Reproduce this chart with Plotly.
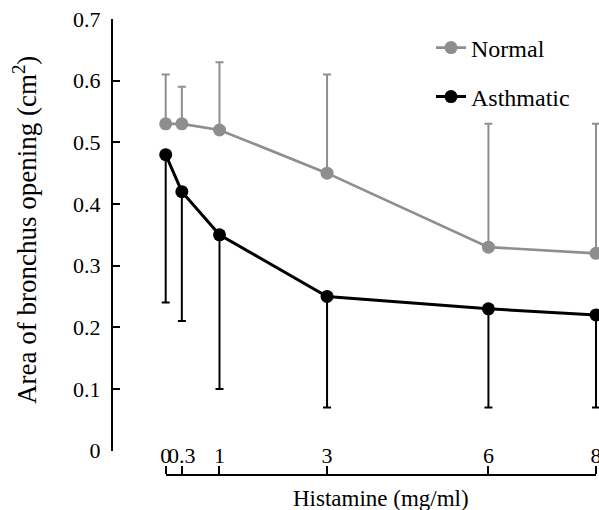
import plotly.graph_objects as go

# ---- data ----
histamine = [0, 0.3, 1, 3, 6, 8]
normal_mean = [0.53, 0.53, 0.52, 0.45, 0.33, 0.32]
normal_err_up = [0.08, 0.06, 0.11, 0.16, 0.20, 0.21]
asth_mean = [0.48, 0.42, 0.35, 0.25, 0.23, 0.22]
asth_err_down = [0.24, 0.21, 0.25, 0.18, 0.16, 0.15]
x_ticks = [0, 0.3, 1, 3, 6, 8]
x_tick_text = ["0", "0.3", "1", "3", "6", "8"]
y_ticks = [0, 0.1, 0.2, 0.3, 0.4, 0.5, 0.6, 0.7]
y_tick_text = ["0", "0.1", "0.2", "0.3", "0.4", "0.5", "0.6", "0.7"]

GRAY = "#8e8e8e"
BLACK = "#000000"
FONT = "Times New Roman, Liberation Serif, serif"

W, H = 599, 510
ML, MR, MT, MB = 113, 0, 19, 20
PW = W - ML - MR
PH = H - MT - MB

def px_x(p):  # pixel -> paper x
    return (p - ML) / PW

def px_y(p):  # pixel -> paper y
    return (H - MB - p) / PH

fig = go.Figure()

# dummy trace to create the display x-axis subplot (drawn first, underneath)
fig.add_trace(go.Scatter(x=[None], y=[None], xaxis="x2", yaxis="y",
                         showlegend=False, hoverinfo="skip"))

fig.add_trace(go.Scatter(
    x=histamine, y=normal_mean, name="Normal", mode="lines+markers",
    line=dict(color=GRAY, width=2.7),
    marker=dict(color=GRAY, size=13),
    error_y=dict(type="data", symmetric=False, array=normal_err_up,
                 arrayminus=[0] * len(normal_err_up),
                 color=GRAY, thickness=2, width=4),
    cliponaxis=False, legend="legend",
))
fig.add_trace(go.Scatter(
    x=histamine, y=asth_mean, name="Asthmatic", mode="lines+markers",
    line=dict(color=BLACK, width=3),
    marker=dict(color=BLACK, size=13),
    error_y=dict(type="data", symmetric=False, array=[0] * len(asth_err_down),
                 arrayminus=asth_err_down,
                 color=BLACK, thickness=2, width=4),
    cliponaxis=False, legend="legend2",
))

# data x-axis: pixel 113 .. 599 ; x=0 at 165.7, x=8 at 596
x0_px, x8_px = 165.7, 596.0
scale = (x8_px - x0_px) / 8.0
xr = [(ML - x0_px) / scale, (W - MR - x0_px) / scale]

fig.update_layout(
    width=W, height=H,
    margin=dict(l=ML, r=MR, t=MT, b=MB, autoexpand=False),
    paper_bgcolor="white", plot_bgcolor="rgba(0,0,0,0)",
    font=dict(family=FONT, size=22, color="black"),
    xaxis=dict(domain=[0, 1], range=xr, showline=False, showticklabels=False,
               ticks="", showgrid=False, zeroline=False, fixedrange=True),
    xaxis2=dict(domain=[px_x(x0_px), px_x(x8_px)], range=[0, 8.0001],
                anchor="free", position=px_y(475), side="top",
                showline=True, linecolor="black", linewidth=2,
                ticks="outside", ticklen=8, tickwidth=2, tickcolor="black",
                tickvals=x_ticks, ticktext=x_tick_text, tickangle=0,
                tickfont=dict(size=22, family=FONT),
                ticklabelstandoff=-6, ticklabeloverflow="allow",
                showgrid=False, zeroline=False),
    yaxis=dict(domain=[px_y(450.6), 1], range=[0, 0.7], anchor="x",
               showline=True, linecolor="black", linewidth=2,
               ticks="inside", ticklen=7, tickwidth=2, tickcolor="black",
               tickvals=y_ticks, ticktext=y_tick_text,
               tickfont=dict(size=22, family=FONT),
               ticklabelstandoff=6,
               showgrid=False, zeroline=False),
    legend=dict(x=px_x(431), y=px_y(48), xanchor="left", yanchor="middle",
                bgcolor="rgba(0,0,0,0)", font=dict(size=24, family=FONT),
                itemwidth=30),
    legend2=dict(x=px_x(431), y=px_y(97), xanchor="left", yanchor="middle",
                 bgcolor="rgba(0,0,0,0)", font=dict(size=24, family=FONT),
                 itemwidth=30),
    annotations=[
        dict(text="Histamine (mg/ml)", xref="x2 domain", x=0.5,
             yref="paper", y=px_y(498), xanchor="center", yanchor="middle",
             showarrow=False, font=dict(size=23, family=FONT)),
        dict(text="Area of bronchus opening (cm<sup>2</sup>)", xref="paper",
             x=px_x(25), yref="paper", y=px_y(230), textangle=-90,
             xanchor="center", yanchor="middle", showarrow=False,
             font=dict(size=27, family=FONT)),
    ],
    showlegend=True,
)

fig.write_html("out.html", config={"displayModeBar": False},
               post_script="document.body.style.margin='0';")
